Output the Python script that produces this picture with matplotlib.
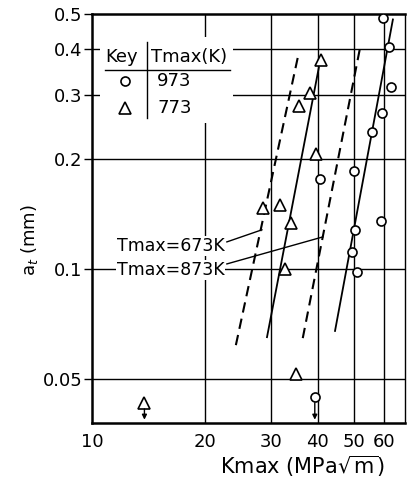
import numpy as np
import matplotlib
matplotlib.use("Agg")
import matplotlib.pyplot as plt
from matplotlib.patches import Rectangle
from matplotlib.ticker import FixedLocator, NullLocator, FixedFormatter

# data
# Tmax = 973 K (circles)
k_973 = [59.7, 62.0, 62.7, 59.5, 56.0, 50.0, 40.5, 59.0, 50.3, 49.4, 51.0]
a_973 = [0.487, 0.405, 0.316, 0.268, 0.238, 0.185, 0.176, 0.135, 0.128, 0.111, 0.098]
# Tmax = 773 K (triangles)
k_773 = [40.8, 38.1, 35.6, 39.6, 28.6, 31.7, 33.9, 32.7, 35.0]
a_773 = [0.373, 0.304, 0.279, 0.206, 0.147, 0.150, 0.134, 0.100, 0.0515]
# points below the axis range (drawn with down arrows)
k_773_low, a_773_low = [13.8], [0.0428]
k_973_low, a_973_low = [39.3], [0.0445]

# fitted lines (end points)
dash1_k, dash1_a = [24.2, 35.4], [0.0618, 0.380]
dash2_k, dash2_a = [36.5, 51.8], [0.0646, 0.400]
solid1_k, solid1_a = [29.3, 40.3], [0.065, 0.357]
solid2_k, solid2_a = [44.5, 63.5], [0.0676, 0.483]

xticks = [10, 20, 30, 40, 50, 60]
yticks = [0.05, 0.1, 0.2, 0.3, 0.4, 0.5]
ytick_labels = ["0.05", "0.1", "0.2", "0.3", "0.4", "0.5"]

plt.rcParams['font.family'] = 'DejaVu Sans'

fig = plt.figure(figsize=(4.08, 4.79), dpi=100)
ax = fig.add_axes([92/408, 1 - 423/479, 313/408, 409/479])
ax.set_xscale('log')
ax.set_yscale('log')
ax.set_xlim(10, 68.4)
ax.set_ylim(0.0378, 0.50)

# grid
for x in xticks[1:]:
    ax.axvline(x, color='black', lw=1.0, zorder=1)
for y in yticks[:-1]:
    ax.axhline(y, color='black', lw=1.0, zorder=1)

ax.xaxis.set_major_locator(FixedLocator(xticks))
ax.xaxis.set_major_formatter(FixedFormatter([str(v) for v in xticks]))
ax.xaxis.set_minor_locator(NullLocator())
ax.yaxis.set_major_locator(FixedLocator(yticks))
ax.yaxis.set_major_formatter(FixedFormatter(ytick_labels))
ax.yaxis.set_minor_locator(NullLocator())
ax.tick_params(axis='x', length=0, pad=7, labelsize=13)
ax.tick_params(axis='y', length=6, width=1.0, pad=1, labelsize=13, direction='out')

for side in ['left', 'bottom', 'top']:
    ax.spines[side].set_linewidth(1.8)
ax.spines['right'].set_linewidth(1.0)

# lines
ax.plot(dash1_k, dash1_a, color='black', lw=1.5, ls=(0, (5, 3)), zorder=3)
ax.plot(dash2_k, dash2_a, color='black', lw=1.5, ls=(0, (5, 3)), zorder=3)
ax.plot(solid1_k, solid1_a, color='black', lw=1.3, zorder=3)
ax.plot(solid2_k, solid2_a, color='black', lw=1.3, zorder=3)

# markers
ax.plot(k_973, a_973, 'o', ms=6.5, mfc='white', mec='black', mew=1.2, zorder=4)
ax.plot(k_773, a_773, '^', ms=8.5, mfc='white', mec='black', mew=1.2, zorder=4)
ax.plot(k_973_low, a_973_low, 'o', ms=6.5, mfc='white', mec='black', mew=1.2, zorder=4)
ax.plot(k_773_low, a_773_low, '^', ms=8.5, mfc='white', mec='black', mew=1.2, zorder=4)
for k, a in zip(k_973_low + k_773_low, a_973_low + a_773_low):
    ax.annotate('', xy=(k, 0.0386), xytext=(k, a * 0.965),
                arrowprops=dict(arrowstyle='-|>', color='black', lw=1.0,
                                mutation_scale=7, shrinkA=0, shrinkB=0),
                zorder=4)

# labels for the lines
ax.text(22.6, 0.1157, "Tmax=673K", ha='right', va='center', fontsize=12.5,
        bbox=dict(facecolor='white', edgecolor='none', pad=0.5), zorder=5)
ax.text(22.6, 0.0994, "Tmax=873K", ha='right', va='center', fontsize=12.5,
        bbox=dict(facecolor='white', edgecolor='none', pad=0.5), zorder=5)
ax.plot([22.9, 28.4], [0.1186, 0.128], color='black', lw=1.0, zorder=5)
ax.plot([22.9, 41.3], [0.1032, 0.1224], color='black', lw=1.0, zorder=5)

# key table
tr = ax.transAxes
ax.add_patch(Rectangle((0.026, 0.733), 0.424, 0.211, transform=tr,
                       facecolor='white', edgecolor='none', zorder=2))
ax.text(0.093, 0.895, "Key", transform=tr, ha='center', va='center', fontsize=13, zorder=5)
ax.text(0.19, 0.895, "Tmax(K)", transform=tr, ha='left', va='center', fontsize=13, zorder=5)
ax.plot([0.042, 0.44], [0.863, 0.863], transform=tr, color='black', lw=1.0, zorder=5)
ax.plot([0.176, 0.176], [0.746, 0.932], transform=tr, color='black', lw=1.0, zorder=5)
ax.plot([0.105], [0.836], 'o', transform=tr, ms=6.5, mfc='white', mec='black', mew=1.2, zorder=5)
ax.plot([0.105], [0.770], '^', transform=tr, ms=8.5, mfc='white', mec='black', mew=1.2, zorder=5)
ax.text(0.208, 0.836, "973", transform=tr, ha='left', va='center', fontsize=13, zorder=5)
ax.text(0.208, 0.770, "773", transform=tr, ha='left', va='center', fontsize=13, zorder=5)

fig.text(30/408, 1 - 240/479, "a$_t$ (mm)", rotation=90, ha='center', va='center', fontsize=13)
fig.text(302/408, 1 - 466/479, r"Kmax (MPa$\sqrt{\mathrm{m}}$)", ha='center', va='center', fontsize=15)

fig.savefig("out.png", dpi=100)
